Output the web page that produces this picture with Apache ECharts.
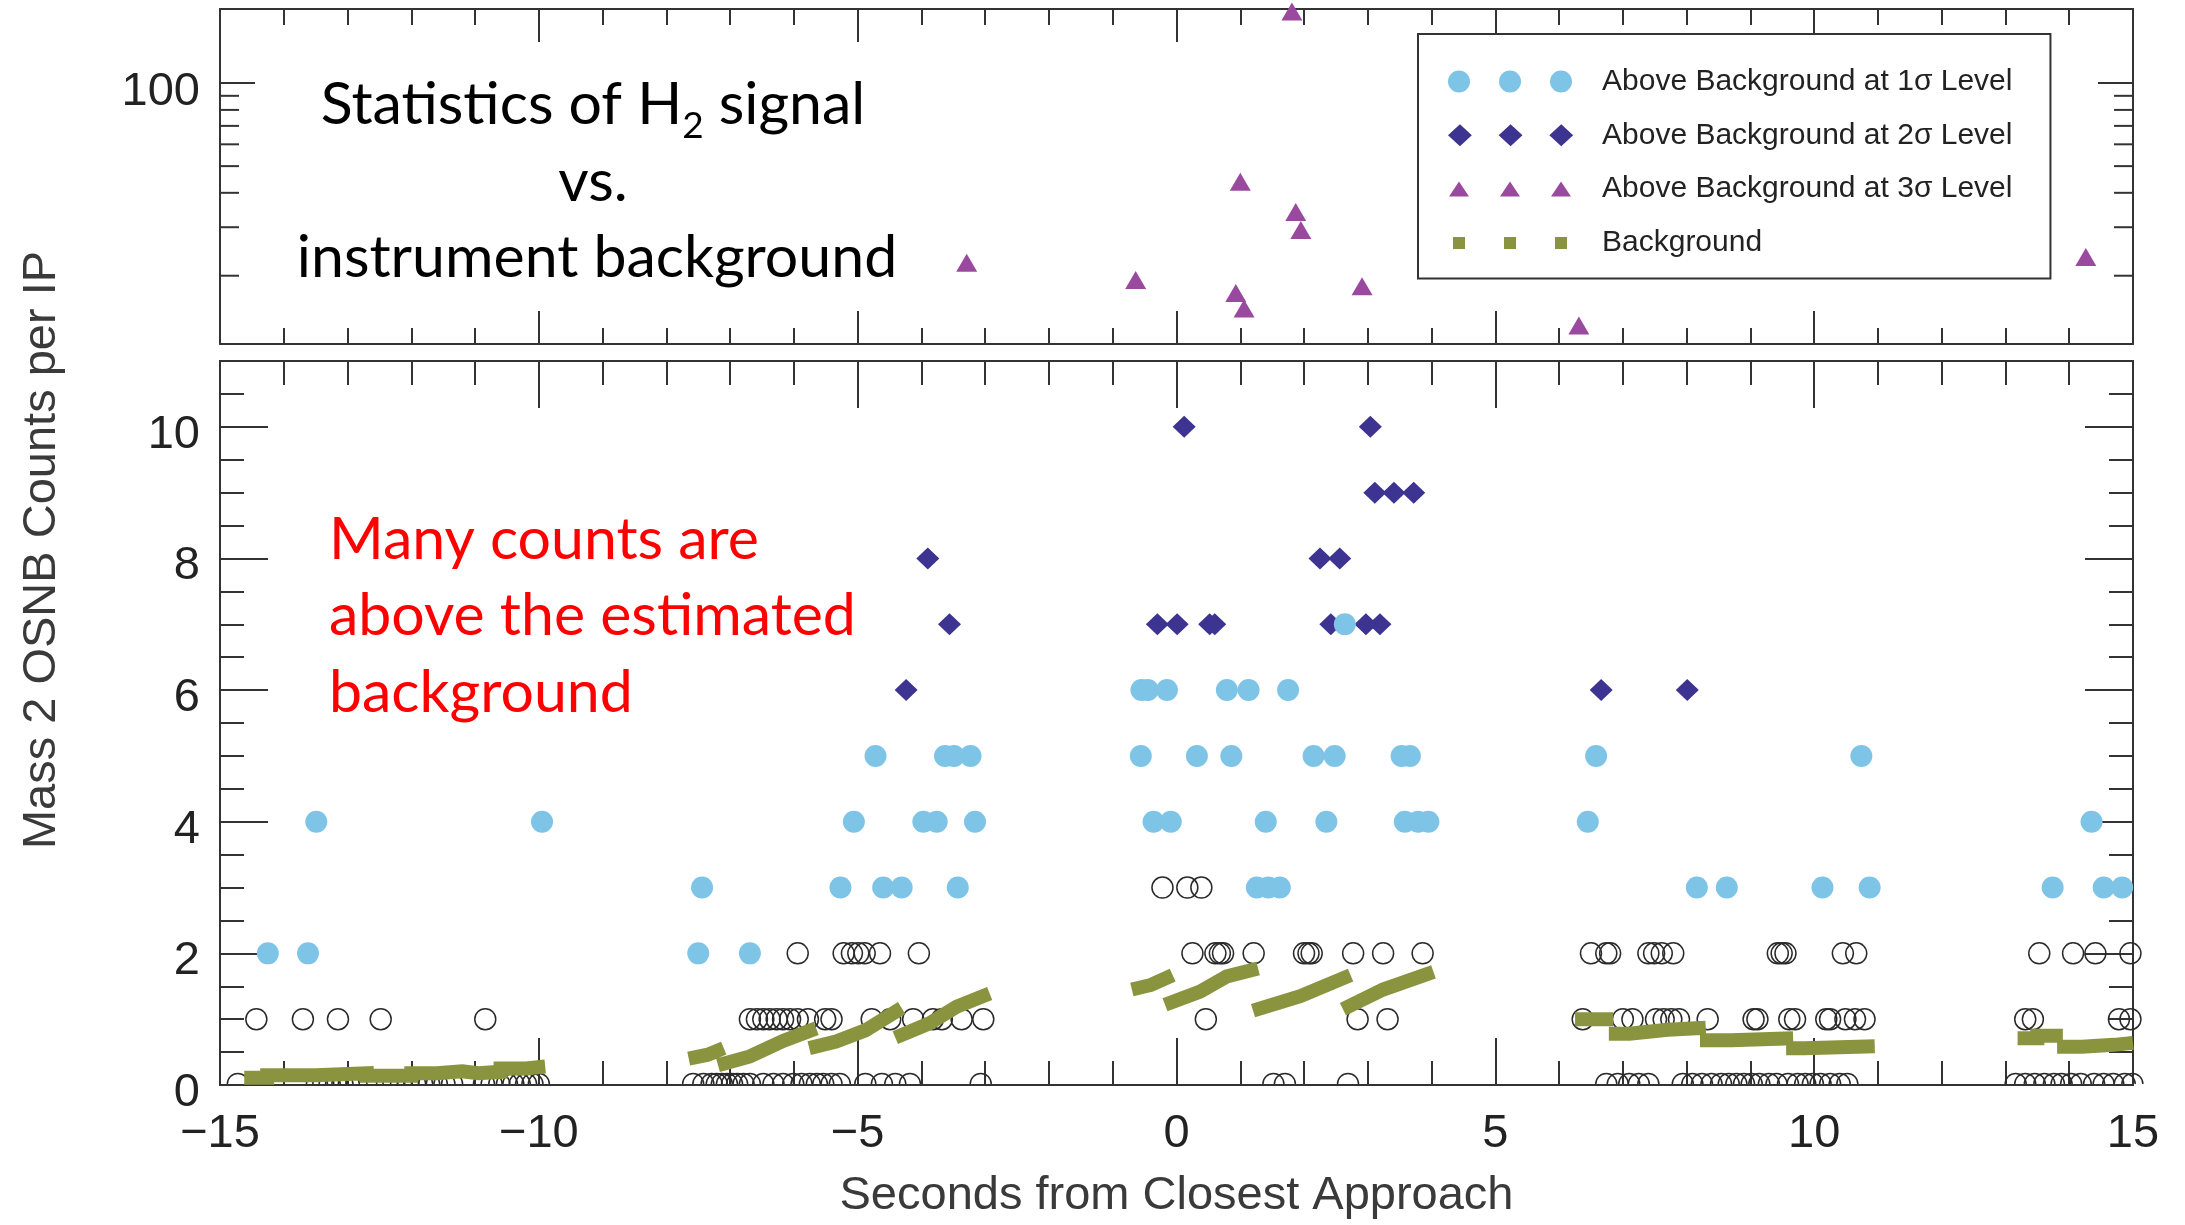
<!DOCTYPE html>
<html>
<head>
<meta charset="utf-8">
<script src="https://cdn.jsdelivr.net/npm/echarts@6/dist/echarts.min.js"></script>
<style>
html,body{margin:0;padding:0;background:#fff;}
#chart{width:2185px;height:1225px;}
</style>
</head>
<body>
<div id="chart"></div>
<script>
// ---------------- DATA ----------------
// Top panel (log scale): points above background at 3 sigma
const sig3X = [-3.29, -0.64, 1.00, 0.93, 1.06, 1.87, 1.95, 2.91, 6.31, 14.26, 1.81];
const sig3Y = [22.3, 19.3, 43.9, 17.3, 15.2, 34.1, 29.3, 18.3, 13.2, 23.4, 182];

// Lower panel: 2 sigma points (x positions per count level)
const sig2At6X = [-4.24, 6.66, 8.01];
const sig2At7X = [-3.56, -0.30, 0.01, 0.52, 0.60, 2.42, 2.97, 3.19];
const sig2At8X = [-3.90, 2.25, 2.56];
const sig2At9X = [3.11, 3.41, 3.72];
const sig2At10X = [0.12, 3.04];

// 1 sigma points
const sig1At2X = [-14.25, -13.62, -7.50, -6.69];
const sig1At3X = [-7.44, -5.27, -4.60, -4.31, -3.43, 1.26, 1.44, 1.62, 8.16, 8.63, 10.13, 10.87, 13.74, 14.54, 14.83];
const sig1At4X = [-13.49, -9.95, -5.06, -3.97, -3.76, -3.16, -0.36, -0.09, 1.40, 2.35, 3.58, 3.79, 3.95, 6.45, 14.35];
const sig1At5X = [-4.72, -3.63, -3.49, -3.23, -0.56, 0.32, 0.86, 2.15, 2.48, 3.53, 3.66, 6.58, 10.74];
const sig1At6X = [-0.55, -0.45, -0.15, 0.79, 1.13, 1.75];
const sig1At7X = [2.64];

// counts not significantly above background (open circles)
const openAt0X = [-14.72, -14.42, -13.48, -13.38, -13.28, -13.18, -13.08, -12.98, -12.86, -12.38, -12.28, -12.16,
  -12.05, -11.94, -11.83, -11.72, -11.60, -11.48, -11.36, -10.86, -10.74, -10.62, -10.50, -10.40, -10.30, -10.20,
  -10.10, -10.00, -7.58, -7.42, -7.29, -7.21, -7.13, -7.05, -6.97, -6.89, -6.79, -6.69, -6.48, -6.32, -6.17, -6.01,
  -5.88, -5.75, -5.64, -5.54, -5.41, -5.28, -4.88, -4.62, -4.41, -4.18, -3.07, 1.52, 1.70, 2.69,
  6.74, 6.92, 7.10, 7.25, 7.40, 7.94, 8.09, 8.24, 8.39, 8.54, 8.66, 8.78, 8.90, 9.02, 9.14, 9.29, 9.41, 9.59, 9.74,
  9.86, 9.98, 10.10, 10.25, 10.40, 10.52, 13.16, 13.31, 13.46, 13.61, 13.76, 13.88, 14.03, 14.18, 14.39, 14.54,
  14.69, 14.87, 14.99];
const openAt1X = [-14.43, -13.70, -13.15, -12.48, -10.84, -6.69, -6.58, -6.48, -6.38, -6.27, -6.17, -6.06, -5.94,
  -5.78, -5.51, -5.41, -4.78, -4.49, -4.13, -3.82, -3.68, -3.37, -3.03, 0.46, 2.84, 3.31, 6.37, 7.00, 7.15, 7.52,
  7.64, 7.76, 7.88, 8.33, 9.05, 9.11, 9.61, 9.70, 10.19, 10.25, 10.49, 10.64, 10.79, 13.31, 13.43, 14.78, 14.96];
const openAt2X = [-5.94, -5.22, -5.09, -4.99, -4.89, -4.65, -4.04, 0.25, 0.61, 0.68, 0.73, 1.21, 2.00, 2.07, 2.12,
  2.77, 3.24, 3.86, 6.50, 6.74, 6.80, 7.40, 7.49, 7.61, 7.79, 9.43, 9.49, 9.55, 10.45, 10.66, 13.53, 14.06, 14.41, 14.96];
const openAt3X = [-0.22, 0.17, 0.39];

// estimated background, one polyline per segment
const bgSegments = [
  [[-14.62,0.11],[-14.26,0.11],[-14.26,0.15],[-13.5,0.15],[-13.5,0.18],[-12.7,0.18],[-12.7,0.14],[-12.0,0.14],
   [-12.0,0.18],[-11.6,0.18],[-11.6,0.21],[-11.2,0.21],[-11.2,0.18],[-10.95,0.18],[-10.95,0.20],[-10.6,0.20],
   [-10.6,0.25],[-10.2,0.25],[-10.2,0.28],[-9.9,0.28]],
  [[-7.65,0.40],[-7.35,0.46],[-7.10,0.56]],
  [[-7.19,0.30],[-6.69,0.435],[-6.17,0.67],[-5.65,0.86]],
  [[-5.76,0.56],[-5.34,0.66],[-4.88,0.83],[-4.31,1.17]],
  [[-4.41,0.72],[-3.87,0.94],[-3.45,1.19],[-2.93,1.39]],
  [[-0.70,1.45],[-0.40,1.52],[-0.06,1.67]],
  [[-0.18,1.22],[0.37,1.42],[0.79,1.65],[1.28,1.77]],
  [[1.20,1.13],[1.94,1.35],[2.73,1.67]],
  [[2.61,1.15],[3.24,1.45],[4.03,1.72]],
  [[6.25,1.0],[6.85,1.0]],
  [[6.78,0.78],[7.1,0.78],[7.1,0.81],[7.4,0.81],[7.4,0.84],[7.7,0.84],[7.7,0.87],[8.3,0.87]],
  [[8.21,0.68],[8.7,0.68],[8.7,0.71],[9.67,0.71]],
  [[9.56,0.56],[9.85,0.56],[9.85,0.59],[10.95,0.59]],
  [[13.19,0.71],[13.5,0.71],[13.5,0.75],[13.9,0.75]],
  [[13.81,0.58],[14.2,0.58],[14.2,0.61],[14.7,0.61],[14.7,0.64],[15.0,0.64]]
];

// minor ticks of the log axis (top panel)
const logMinorTicks = [20, 30, 40, 50, 60, 70, 80, 90];

// names
const NAME1 = 'Above Background at 1\u03c3 Level';
const NAME2 = 'Above Background at 2\u03c3 Level';
const NAME3 = 'Above Background at 3\u03c3 Level';
const NAMEBG = 'Background';

// ---------------- BUILD ----------------
const toPts = (xs, y) => xs.map(x => [x, y]);
const sig2Data = [].concat(toPts(sig2At6X,6), toPts(sig2At7X,7), toPts(sig2At8X,8), toPts(sig2At9X,9), toPts(sig2At10X,10));
const sig1Data = [].concat(toPts(sig1At2X,2), toPts(sig1At3X,3), toPts(sig1At4X,4), toPts(sig1At5X,5), toPts(sig1At6X,6), toPts(sig1At7X,7));
const openData = [].concat(toPts(openAt1X,1), toPts(openAt2X,2), toPts(openAt3X,3));
const openZeroData = toPts(openAt0X, 0);
const sig3Data = sig3X.map((x, i) => [x, sig3Y[i]]);
const bgData = [];
bgSegments.forEach((seg, i) => {
  if (i > 0) bgData.push([seg[0][0], '-']);
  seg.forEach(p => bgData.push(p));
});

const FRAME = '#333';
const AX_FONT = 'Liberation Sans';
const LBL_SIZE = 47;
const minus = v => (v < 0 ? '\u2212' + Math.abs(v) : String(v));

function xAx(grid, pos, majorLen, minorLen, labels) {
  const a = {
    type: 'value', gridIndex: grid, position: pos, min: -15, max: 15, interval: 5,
    splitLine: {show: false},
    axisLine: {show: true, onZero: false, lineStyle: {color: FRAME, width: 2}},
    axisTick: {show: true, inside: true, length: majorLen, lineStyle: {color: FRAME, width: 2}},
    minorTick: {show: true, splitNumber: 5, length: minorLen, lineStyle: {color: FRAME, width: 2}},
    axisLabel: {show: false}
  };
  if (labels) {
    a.axisLabel = {show: true, fontSize: LBL_SIZE, fontFamily: AX_FONT, color: '#222', margin: 26, formatter: minus};
    a.name = 'Seconds from Closest Approach';
    a.nameLocation = 'middle';
    a.nameGap = 88;
    a.nameTextStyle = {fontSize: 47, fontFamily: AX_FONT, color: '#3a3a3a', verticalAlign: 'top'};
  }
  return a;
}
function yLin(pos, interval, len, labels) {
  return {
    type: 'value', gridIndex: 1, position: pos, min: 0, max: 11, interval: interval,
    splitLine: {show: false},
    axisLine: {show: true, onZero: false, lineStyle: {color: FRAME, width: 2}},
    axisTick: {show: true, inside: true, length: len, lineStyle: {color: FRAME, width: 2}},
    axisLabel: labels ? {show: true, fontSize: LBL_SIZE, fontFamily: AX_FONT, color: '#222', margin: 20,
      verticalAlign: 'top', lineHeight: 16, showMaxLabel: false} : {show: false}
  };
}
function yLog(pos, labels) {
  return {
    type: 'log', logBase: 10, gridIndex: 0, position: pos, min: 11.3, max: 186,
    splitLine: {show: false},
    axisLine: {show: true, onZero: false, lineStyle: {color: FRAME, width: 2}},
    axisTick: {show: true, inside: true, length: 35, lineStyle: {color: FRAME, width: 2}},
    axisLabel: labels ? {show: true, fontSize: LBL_SIZE, fontFamily: AX_FONT, color: '#222', margin: 20,
      verticalAlign: 'top', lineHeight: 17,
      formatter: v => { const l = Math.log10(v); return Math.abs(l - Math.round(l)) < 1e-6 ? String(Math.round(v)) : ''; }} : {show: false}
  };
}

// legend icons (three repeated markers, same bounding box for each)
const BOX = 'M0,0 M149,22 ';
const iconCircles = 'path://' + BOX + 'M0,11a11,11 0 1,0 22,0a11,11 0 1,0 -22,0Z M51,11a11,11 0 1,0 22,0a11,11 0 1,0 -22,0Z M102,11a11,11 0 1,0 22,0a11,11 0 1,0 -22,0Z';
const iconDiamonds = 'path://' + BOX + 'M-1,11L11,0L23,11L11,22Z M50,11L62,0L74,11L62,22Z M101,11L113,0L125,11L113,22Z';
const iconTriangles = 'path://' + BOX + 'M1,18.5L11,3.5L21,18.5Z M52,18.5L62,3.5L72,18.5Z M103,18.5L113,3.5L123,18.5Z';
const iconSquares = 'path://' + BOX + 'M5,5h12v12h-12Z M56,5h12v12h-12Z M107,5h12v12h-12Z';

const TXT_FONT = 'Lato';
const TXT_SIZE = 59;

const option = {
  animation: false,
  backgroundColor: '#fff',
  grid: [
    {left: 220, top: 9, width: 1913, height: 335},
    {left: 220, top: 361, width: 1913, height: 729}
  ],
  xAxis: [
    xAx(0, 'bottom', 33, 16, false),
    xAx(0, 'top', 33, 16, false),
    xAx(1, 'bottom', 47, 24, true),
    xAx(1, 'top', 47, 24, false)
  ],
  yAxis: [
    yLog('left', true),
    yLog('right', false),
    yLin('left', 2, 48, true),
    yLin('left', 0.5, 24, false),
    yLin('right', 2, 48, false),
    yLin('right', 0.5, 24, false)
  ],
  legend: {
    data: [
      {name: NAME1, icon: iconCircles},
      {name: NAME2, icon: iconDiamonds},
      {name: NAME3, icon: iconTriangles},
      {name: NAMEBG, icon: iconSquares}
    ],
    orient: 'vertical', left: 1418, top: 34,
    itemWidth: 149, itemHeight: 22, itemGap: 23.8,
    padding: [32.5, 38, 20.5, 30],
    borderColor: FRAME, borderWidth: 2, backgroundColor: '#fff',
    selectedMode: false,
    itemStyle: {borderWidth: 0, opacity: 1},
    textStyle: {fontSize: 30, fontFamily: AX_FONT, color: '#222', lineHeight: 22}
  },
  graphic: [
    {type: 'text', x: 593, y: 105, z: 50,
      style: {text: '{a|Statistics of H}{s|2}{a| signal}', align: 'center', verticalAlign: 'middle',
        rich: {a: {fontSize: TXT_SIZE, fontFamily: TXT_FONT, fill: '#000', lineHeight: 80},
               s: {fontSize: 37, fontFamily: TXT_FONT, fill: '#000', verticalAlign: 'bottom'}}}},
    {type: 'text', x: 593, y: 182, z: 50,
      style: {text: 'vs.', align: 'center', verticalAlign: 'middle', fontSize: TXT_SIZE, fontFamily: TXT_FONT, fill: '#000'}},
    {type: 'text', x: 597, y: 258, z: 50,
      style: {text: 'instrument background', align: 'center', verticalAlign: 'middle', fontSize: TXT_SIZE, fontFamily: TXT_FONT, fill: '#000'}},
    {type: 'text', x: 329, y: 540, z: 50,
      style: {text: 'Many counts are', align: 'left', verticalAlign: 'middle', fontSize: TXT_SIZE, fontFamily: TXT_FONT, fill: '#ff0000'}},
    {type: 'text', x: 329, y: 616, z: 50,
      style: {text: 'above the estimated', align: 'left', verticalAlign: 'middle', fontSize: TXT_SIZE, fontFamily: TXT_FONT, fill: '#ff0000'}},
    {type: 'text', x: 329, y: 693, z: 50,
      style: {text: 'background', align: 'left', verticalAlign: 'middle', fontSize: TXT_SIZE, fontFamily: TXT_FONT, fill: '#ff0000'}},
    {type: 'text', x: 42, y: 550, rotation: Math.PI / 2, z: 50,
      style: {text: 'Mass 2 OSNB Counts per IP', align: 'center', verticalAlign: 'middle', fontSize: 47, fontFamily: AX_FONT, fill: '#3a3a3a'}}
  ],
  series: [
    {
      type: 'custom', name: 'logMinor', xAxisIndex: 0, yAxisIndex: 0, silent: true, z: 1,
      data: logMinorTicks.map(v => [-15, v]),
      renderItem: (params, api) => {
        const v = api.value(1);
        const pl = api.coord([-15, v]);
        const pr = api.coord([15, v]);
        return {type: 'group', children: [
          {type: 'line', shape: {x1: pl[0], y1: pl[1], x2: pl[0] + 19, y2: pl[1]}, style: {stroke: FRAME, lineWidth: 2}},
          {type: 'line', shape: {x1: pr[0] - 19, y1: pr[1], x2: pr[0], y2: pr[1]}, style: {stroke: FRAME, lineWidth: 2}}
        ]};
      }
    },
    {
      type: 'scatter', name: NAME3, xAxisIndex: 0, yAxisIndex: 0, z: 5,
      symbol: 'triangle', symbolSize: [21, 18],
      itemStyle: {color: '#9a4a9e', opacity: 1}, data: sig3Data
    },
    {
      type: 'scatter', name: 'open', xAxisIndex: 2, yAxisIndex: 2, z: 2, silent: true,
      symbol: 'circle', symbolSize: 21,
      itemStyle: {color: 'rgba(255,255,255,0)', borderColor: '#2a2a2a', borderWidth: 1.5, opacity: 1},
      data: openData
    },
    {
      type: 'custom', name: 'openZero', xAxisIndex: 2, yAxisIndex: 2, z: 2, silent: true,
      data: openZeroData,
      renderItem: (params, api) => {
        const p = api.coord([api.value(0), api.value(1)]);
        return {type: 'arc', shape: {cx: p[0], cy: p[1] - 1, r: 10.5, startAngle: Math.PI, endAngle: 2 * Math.PI, clockwise: true},
          style: {stroke: '#2a2a2a', lineWidth: 1.5, fill: 'none'}};
      }
    },
    {
      type: 'line', name: NAMEBG, xAxisIndex: 2, yAxisIndex: 2, z: 3,
      showSymbol: false, symbol: 'rect', connectNulls: false,
      itemStyle: {color: '#8a943f', borderWidth: 0},
      lineStyle: {color: '#8a943f', width: 14, cap: 'butt', join: 'miter'},
      data: bgData
    },
    {
      type: 'scatter', name: NAME2, xAxisIndex: 2, yAxisIndex: 2, z: 4,
      symbol: 'diamond', symbolSize: [23, 22],
      itemStyle: {color: '#3d3391', opacity: 1}, data: sig2Data
    },
    {
      type: 'scatter', name: NAME1, xAxisIndex: 2, yAxisIndex: 2, z: 5,
      symbol: 'circle', symbolSize: 22,
      itemStyle: {color: '#7ec4e6', opacity: 1}, data: sig1Data
    }
  ]
};

const chart = echarts.init(document.getElementById('chart'), null, {renderer: 'canvas'});
chart.setOption(option);
</script>
</body>
</html>
